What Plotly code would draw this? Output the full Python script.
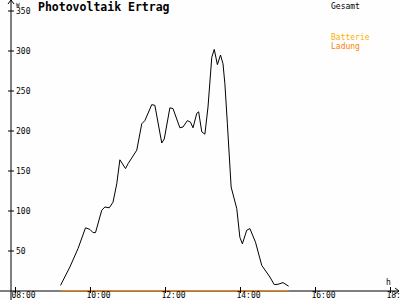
import plotly.graph_objects as go

DAY = "2024-06-01 "
times = ["09:12","09:27","09:40","09:47","09:52","09:59","10:04","10:08","10:18","10:23",
         "10:30","10:36","10:42","10:47","10:56","11:00","11:10","11:14","11:22","11:27",
         "11:38","11:43","11:54","11:58","12:07","12:12","12:23","12:28","12:35","12:40",
         "12:44","12:50","12:53","12:58","13:03","13:08","13:14","13:18","13:23","13:28",
         "13:32","13:35","13:39","13:42","13:45","13:54","13:59","14:03","14:10","14:15",
         "14:24","14:34","14:47","14:54","15:00","15:08","15:17"]
gesamt = [7,30,53,67,79,77,73,73,101,105,
          104,111,134,164,153,159,171,176,209,213,
          233,232,185,190,229,228,204,205,213,211,
          204,222,224,199,196,230,292,302,283,295,
          284,259,209,176,130,103,67,59,76,78,
          61,32,17.5,8,8.4,10.5,6]
ladung = [0] * len(times)

x_ticks = ["08:00", "10:00", "12:00", "14:00", "16:00", "18:00"]
y_ticks = [50, 100, 150, 200, 250, 300, 350]
legend_names = ["Gesamt", "Batterie", "Ladung"]
legend_colors = ["#000000", "#ffb000", "#ff8000"]

x = [DAY + t for t in times]
W, H = 400, 300
ML, MB = 11, 9
PW, PH = W - ML, H - MB
FONT = "DejaVu Sans Mono"

fig = go.Figure()
fig.add_trace(go.Scatter(x=x, y=ladung, mode="lines", line=dict(color="#ff8000", width=2), showlegend=False))
fig.add_trace(go.Scatter(x=x, y=gesamt, mode="lines", line=dict(color="#000000", width=1), showlegend=False))

shapes = []
shapes.append(dict(type="line", xref="paper", yref="paper", x0=-ML/PW, x1=(W-1-ML)/PW, y0=0, y1=0,
                   line=dict(color="#000", width=1), layer="below"))
shapes.append(dict(type="line", xref="paper", yref="paper", x0=0, x1=0, y0=-MB/PH, y1=1,
                   line=dict(color="#000", width=1)))
shapes.append(dict(type="path", xref="paper", yref="paper",
                   path=f"M {-3/PW} {1-4/PH} L 0 1 L {3/PW} {1-4/PH}", line=dict(color="#000", width=1)))
shapes.append(dict(type="path", xref="paper", yref="paper",
                   path=f"M {(W-5-ML)/PW} {3/PH} L {(W-1-ML)/PW} 0 L {(W-5-ML)/PW} {-3/PH}", line=dict(color="#000", width=1)))
for t in x_ticks:
    shapes.append(dict(type="line", xref="x", yref="paper", x0=DAY + t, x1=DAY + t, y0=-2/PH, y1=4/PH,
                       line=dict(color="#000", width=1)))
for v in y_ticks:
    shapes.append(dict(type="line", xref="paper", yref="y", x0=-3/PW, x1=3/PW, y0=v, y1=v,
                       line=dict(color="#000", width=1)))

annotations = [
    dict(text="W", xref="paper", yref="paper", x=3/PW, y=1+1/PH, xanchor="left", yanchor="top",
         showarrow=False, font=dict(family=FONT, size=6, color="#000")),
    dict(text="h", xref="paper", yref="paper", x=(W-16-ML)/PW, y=2/PH, xanchor="left", yanchor="bottom",
         showarrow=False, font=dict(family=FONT, size=8, color="#000000")),
]
leg_y = [1, 1 - 31/PH, 1 - 40/PH]
for name, col, ly in zip(legend_names, legend_colors, leg_y):
    annotations.append(dict(text=name, xref="paper", yref="paper", x=(329-ML)/PW, y=ly,
                            xanchor="left", yanchor="top", showarrow=False,
                            font=dict(family=FONT, size=8, color=col)))

fig.update_layout(
    width=W, height=H,
    margin=dict(l=ML, r=0, t=0, b=MB, pad=0, autoexpand=False),
    paper_bgcolor="#fefefe", plot_bgcolor="#fefefe",
    title=dict(text="<b>Photovoltaik Ertrag</b>", x=38/W, xanchor="left", xref="container",
               y=1 - 3/H, yanchor="top", yref="container", automargin=False,
               font=dict(family=FONT, size=11.5, color="#000")),
    xaxis=dict(type="date", range=[DAY + "07:52:48", DAY + "18:15:11"],
               tickvals=[DAY + t for t in x_ticks], ticktext=x_ticks, automargin=False,
               showgrid=False, zeroline=False, showline=False, ticks="",
               tickfont=dict(family=FONT, size=8, color="#000"),
               ticklabelshift=8, ticklabelstandoff=-2, ticklabeloverflow="allow"),
    yaxis=dict(range=[0, PH/0.8], tickvals=y_ticks, ticktext=[str(v) for v in y_ticks],
               showgrid=False, zeroline=False, showline=False, ticks="", automargin=False,
               ticklabelposition="inside", ticklabelstandoff=2, ticklabeloverflow="allow",
               tickfont=dict(family=FONT, size=8, color="#000")),
    shapes=shapes, annotations=annotations, showlegend=False,
)
fig.write_html("out.html")
